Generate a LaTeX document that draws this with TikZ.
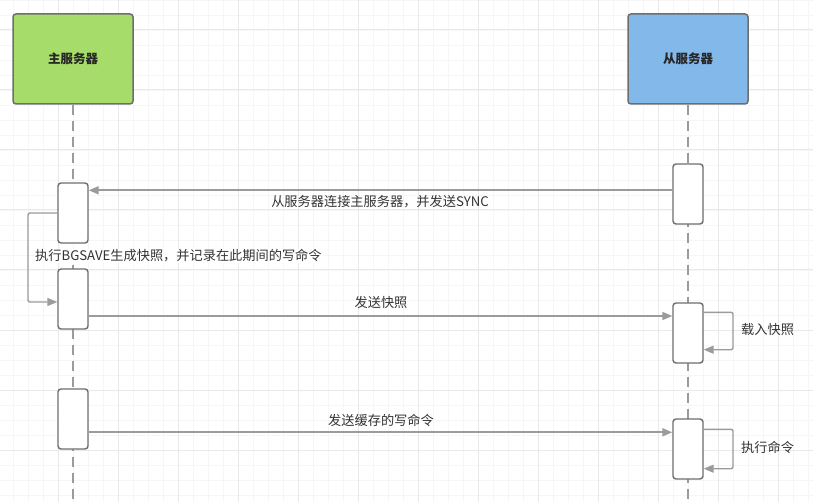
\documentclass[tikz,border=0pt]{standalone}
\usepackage{fontspec}
\setmainfont{Noto Sans CJK SC}
\usetikzlibrary{arrows.meta}
\definecolor{mgreen}{RGB}{166,220,106}
\definecolor{sblue}{RGB}{131,184,234}
\definecolor{bordc}{RGB}{110,110,110}
\definecolor{linec}{RGB}{155,155,155}
\definecolor{txtc}{RGB}{51,51,51}
\definecolor{gridmin}{RGB}{246,246,246}
\definecolor{gridmaj}{RGB}{233,233,233}
\tikzset{
  actor/.style={draw=bordc, line width=1.5pt, rounded corners=3pt, minimum width=120pt, minimum height=90pt, inner sep=0pt, font=\fontsize{12.5}{14}\selectfont\bfseries, text=black!85},
  actbox/.style={draw=bordc, fill=white, line width=1.4pt, rounded corners=3pt, minimum width=30pt, minimum height=60pt, inner sep=0pt},
  lifeline/.style={draw=linec, line width=1.5pt, dash pattern=on 10pt off 6pt},
  msg/.style={draw=linec, line width=1.7pt, -{Triangle[length=10pt,width=8pt]}},
  selfmsg/.style={draw=linec, line width=1.4pt, rounded corners=2pt, -{Triangle[length=10pt,width=8pt]}},
  lbl/.style={text=txtc, font=\fontsize{13.2}{15}\selectfont, inner sep=1pt},
}
\begin{document}
\begin{tikzpicture}[x=1pt, y=-1pt]
\useasboundingbox (0,0) rectangle (813,502);
\fill[white] (0,0) rectangle (813,502);
% grid
\foreach \i in {0,...,53} { \draw[gridmin, line width=0.8pt] ({13+15*\i},0) -- ({13+15*\i},502); }
\foreach \i in {0,...,33} { \draw[gridmin, line width=0.8pt] (0,{15*\i}) -- (813,{15*\i}); }
\foreach \i in {0,...,12} { \draw[gridmaj, line width=1pt] ({58+60*\i},0) -- ({58+60*\i},502); }
\foreach \i in {0,...,7} { \draw[gridmaj, line width=1pt] (0,{30+60*\i}) -- (813,{30+60*\i}); }
% actors
\node[actor, fill=mgreen] (master) at (73,59) {主服务器};
\node[actor, fill=sblue] (slave) at (688,59) {从服务器};
\coordinate (mend) at (73,502);
\coordinate (send) at (688,502);
\draw[lifeline] (master.south) -- (mend);
\draw[lifeline] (slave.south) -- (send);
% activation boxes
\node[actbox] (l1) at (73,213) {};
\node[actbox] (l2) at (73,299) {};
\node[actbox] (l3) at (73,419) {};
\node[actbox] (r1) at (688,194) {};
\node[actbox] (r2) at (688,333) {};
\node[actbox] (r3) at (688,449) {};
% messages
\draw[msg] ([yshift=-27pt]r1.north west) -- ([yshift=-27pt]r1.north west -| l1.east);
\node[lbl] (t1) at (380,202) {从服务器连接主服务器，并发送SYNC};
\coordinate (loopL) at (28,0);
\draw[selfmsg] (l1.west) -- (l1.west -| loopL) -- ([yshift=-3pt]l2.west -| loopL) -- ([yshift=-3pt]l2.west);
\node[lbl, anchor=west, fill=white] (t2) at (34,256) {执行BGSAVE生成快照，并记录在此期间的写命令};
\draw[msg] ([yshift=-17pt]l2.east) -- ([yshift=-17pt]l2.east -| r2.west);
\node[lbl] (t3) at (381,302) {发送快照};
\coordinate (loopR) at (733,0);
\draw[selfmsg] ([yshift=-10pt]r2.north east) -- ([yshift=-10pt]r2.north east -| loopR) -- ([yshift=14pt]r2.south east -| loopR) -- ([yshift=14pt]r2.south east);
\node[lbl, anchor=west] (t4) at (740,330) {载入快照};
\draw[msg] ([yshift=-44pt]l3.north east) -- ([yshift=-44pt]l3.north east -| r3.west);
\node[lbl] (t5) at (381,420) {发送缓存的写命令};
\draw[selfmsg] ([yshift=-11pt]r3.north east) -- ([yshift=-11pt]r3.north east -| loopR) -- ([yshift=11pt]r3.south east -| loopR) -- ([yshift=11pt]r3.south east);
\node[lbl, anchor=west] (t6) at (740,447) {执行命令};
\end{tikzpicture}
\end{document}
